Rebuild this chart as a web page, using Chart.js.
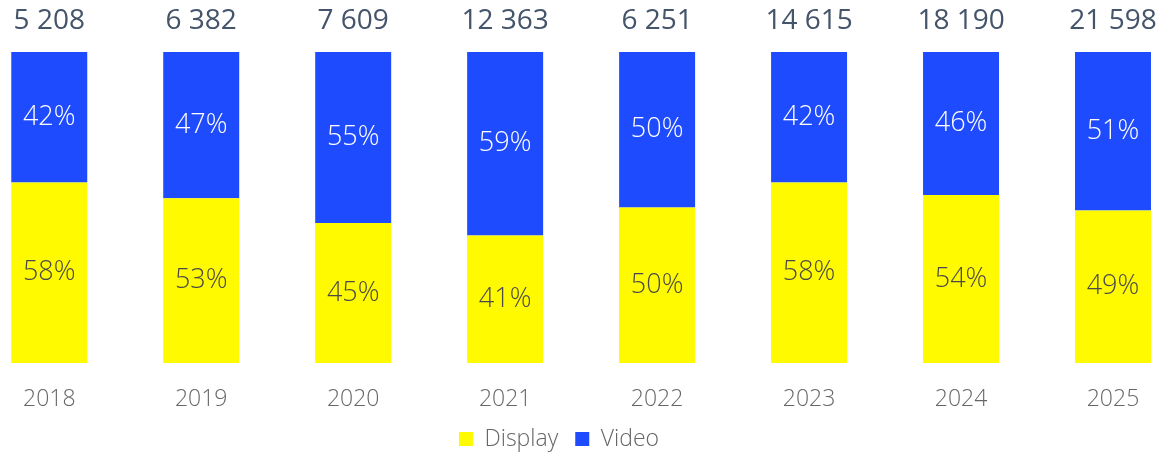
<!DOCTYPE html>
<html>
<head>
<meta charset="utf-8">
<script src="https://cdn.jsdelivr.net/npm/chart.js@4.4.1/dist/chart.umd.min.js"></script>
<style>
  html, body { margin: 0; padding: 0; background: #ffffff; }
  #wrap { width: 1165px; height: 456px; position: relative; }
</style>
</head>
<body>
<div id="wrap"><canvas id="c" width="1165" height="456"></canvas></div>
<script>
const categories = ['2018', '2019', '2020', '2021', '2022', '2023', '2024', '2025'];
const displayShare = [58, 53, 45, 41, 50, 58, 54, 49];
const videoShare = [42, 47, 55, 59, 50, 42, 46, 51];
const totals = ['5 208', '6 382', '7 609', '12 363', '6 251', '14 615', '18 190', '21 598'];

const FONT = "'Open Sans', 'DejaVu Sans', sans-serif";

const labelsPlugin = {
  id: 'barLabels',
  afterLayout(chart) {
    const lg = chart.legend;
    if (lg) {
      lg.top += 4.5; lg.bottom += 4.5;
      lg.left -= 22; lg.right -= 22;
    }
  },
  afterDatasetsDraw(chart) {
    const ctx = chart.ctx;
    ctx.save();
    ctx.textAlign = 'center';
    ctx.textBaseline = 'middle';
    const colors = ['#4a4a4a', '#ffffff'];
    chart.data.datasets.forEach((ds, di) => {
      const meta = chart.getDatasetMeta(di);
      meta.data.forEach((el, i) => {
        const y = (el.y + el.base) / 2;
        ctx.font = '300 27px ' + FONT;
        ctx.fillStyle = colors[di];
        ctx.fillText(ds.data[i] + '%', el.x, y);
      });
    });
    const top = chart.getDatasetMeta(1);
    top.data.forEach((el, i) => {
      ctx.font = '28px ' + FONT;
      ctx.fillStyle = '#44546a';
      ctx.fillText(totals[i], el.x, 21);
    });
    ctx.restore();
  }
};

new Chart(document.getElementById('c'), {
  type: 'bar',
  data: {
    labels: categories,
    datasets: [
      { label: 'Display', data: displayShare, backgroundColor: '#FFFA00', borderWidth: 0, clip: false },
      { label: 'Video', data: videoShare, backgroundColor: '#1F4BFF', borderWidth: 0, clip: false }
    ]
  },
  options: {
    responsive: false,
    animation: false,
    devicePixelRatio: 1,
    layout: { padding: { top: 52, left: 49, right: 52, bottom: 0 } },
    datasets: { bar: { categoryPercentage: 1.0, barPercentage: 0.5 } },
    scales: {
      x: {
        stacked: true,
        offset: false,
        grid: { display: false, drawTicks: false },
        border: { display: false },
        ticks: { color: '#666666', font: { family: FONT, size: 23, weight: '300' }, padding: 23, maxRotation: 0, autoSkip: false },
        afterFit(scale) { scale.height = 43; }
      },
      y: {
        stacked: true,
        display: false,
        min: 0,
        max: 100
      }
    },
    plugins: {
      legend: {
        position: 'bottom',
        labels: {
          color: '#666666',
          font: { family: FONT, size: 23, weight: '300' },
          boxWidth: 14,
          boxHeight: 14,
          padding: 17
        }
      },
      tooltip: { enabled: false }
    }
  },
  plugins: [labelsPlugin]
});
</script>
</body>
</html>
